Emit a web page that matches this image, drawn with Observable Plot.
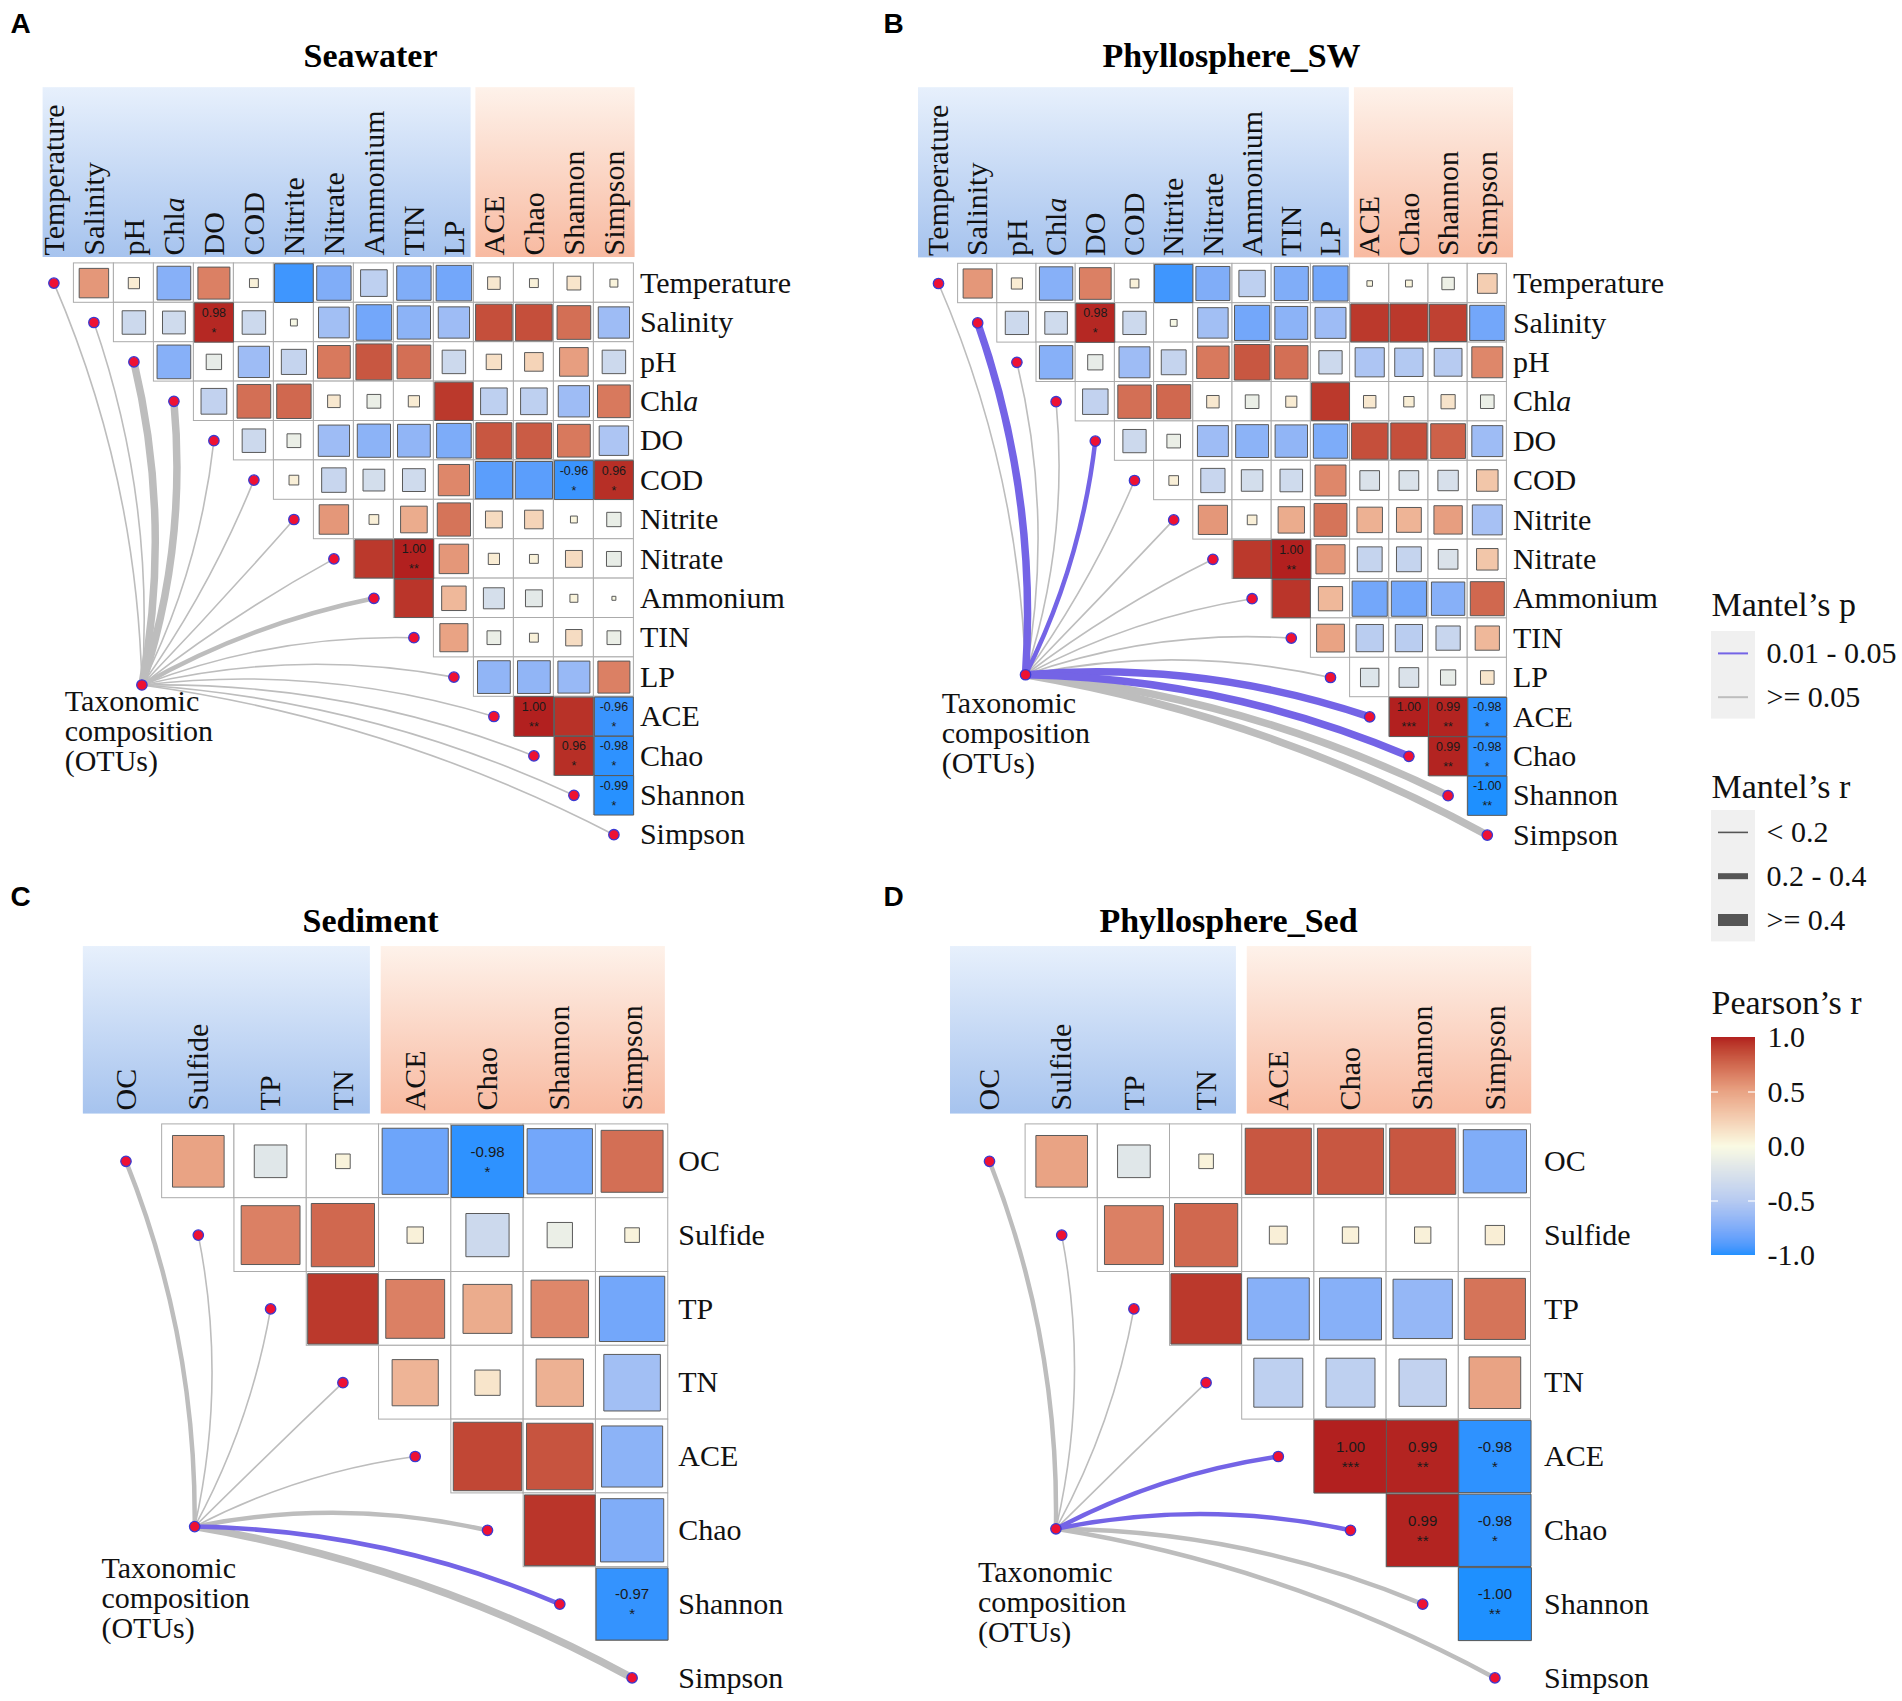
<!DOCTYPE html>
<html>
<head>
<meta charset="utf-8">
<script src="https://cdn.jsdelivr.net/npm/d3@7"></script>
<script src="https://cdn.jsdelivr.net/npm/@observablehq/plot@0.6"></script>
<style>
  html, body { margin: 0; padding: 0; background: #fff; }
  #fig { position: relative; width: 1902px; height: 1701px; background: #fff; overflow: hidden; }
  #fig svg { position: absolute; overflow: visible; }
</style>
</head>
<body>
<div id="fig"></div>
<script>
// ================= DATA =================
const panelLetters = ["A", "B", "C", "D"];
const panelTitles = ["Seawater", "Phyllosphere_SW", "Sediment", "Phyllosphere_Sed"];
const specLabel = ["Taxonomic", "composition", "(OTUs)"];

const seawaterEnv = ["Temperature", "Salinity", "pH", "Chla", "DO", "COD", "Nitrite", "Nitrate", "Ammonium", "TIN", "LP"];
const sedimentEnv = ["OC", "Sulfide", "TP", "TN"];
const diversity = ["ACE", "Chao", "Shannon", "Simpson"];

// Pearson's r among environmental factors (upper triangle, row i vs following columns)
const seawaterEnvR = [
  [0.55, 0.08, -0.72, 0.65, 0.05, -0.95, -0.75, -0.45, -0.75, -0.80],
  [-0.35, -0.33, 0.98, -0.35, -0.03, -0.60, -0.80, -0.70, -0.62],
  [-0.72, -0.15, -0.62, -0.40, 0.68, 0.82, 0.72, -0.35],
  [-0.42, 0.72, 0.75, 0.10, -0.12, 0.08, 0.93],
  [-0.35, -0.12, -0.62, -0.70, -0.68, -0.76],
  [0.06, -0.38, -0.30, -0.33, 0.62],
  [0.55, 0.06, 0.45, 0.70],
  [0.93, 1.00, 0.55],
  [0.94, 0.38],
  [0.50]
];
const sedimentEnvR = [
  [0.50, -0.20, 0.04],
  [0.65, 0.75],
  [0.93]
];

// Pearson's r between each environmental factor (rows) and ACE, Chao, Shannon, Simpson
const seawaterDivR = [
  [0.10, 0.05, 0.12, 0.04],
  [0.85, 0.85, 0.72, -0.62],
  [0.15, 0.22, 0.52, -0.35],
  [-0.45, -0.45, -0.62, 0.68],
  [0.82, 0.80, 0.68, -0.55],
  [-0.88, -0.88, -0.96, 0.96],
  [0.18, 0.22, 0.03, -0.13],
  [0.08, 0.05, 0.18, -0.14],
  [-0.28, -0.18, 0.04, -0.01],
  [-0.12, 0.05, 0.17, -0.12],
  [-0.68, -0.68, -0.65, 0.65]
];
const phylloSWDivR = [
  [0.02, 0.03, -0.10, 0.25],
  [0.93, 0.93, 0.90, -0.80],
  [-0.55, -0.52, -0.50, 0.62],
  [0.10, 0.07, 0.13, -0.12],
  [0.85, 0.85, 0.78, -0.62],
  [-0.25, -0.25, -0.27, 0.30],
  [0.42, 0.40, 0.52, -0.58],
  [-0.40, -0.40, -0.25, 0.30],
  [-0.80, -0.80, -0.72, 0.75],
  [-0.48, -0.48, -0.38, 0.38],
  [-0.22, -0.25, -0.15, 0.12]
];
const sedimentDivR = [
  [-0.82, -0.98, -0.80, 0.72],
  [0.05, -0.35, -0.12, 0.04],
  [0.65, 0.45, 0.62, -0.80],
  [0.40, 0.12, 0.42, -0.60]
];
const phylloSedDivR = [
  [0.82, 0.82, 0.82, -0.75],
  [0.06, 0.05, 0.05, 0.07],
  [-0.72, -0.72, -0.66, 0.70],
  [-0.45, -0.45, -0.42, 0.50]
];

// Pearson's r among diversity indices (ACE vs Chao/Shannon/Simpson, Chao vs Shannon/Simpson, Shannon vs Simpson)
const seawaterDivDivR = [[1.00, 0.95, -0.96], [0.96, -0.98], [-0.99]];
const phylloSWDivDivR = [[1.00, 0.99, -0.98], [0.99, -0.98], [-1.00]];
const sedimentDivDivR = [[0.88, 0.83, -0.70], [0.94, -0.75], [-0.97]];
const phylloSedDivDivR = [[1.00, 0.99, -0.98], [0.99, -0.98], [-1.00]];

// significant Pearson correlations [row, column, stars]
const seawaterSig = [["Salinity", "DO", "*"], ["COD", "Shannon", "*"], ["COD", "Simpson", "*"], ["Nitrate", "TIN", "**"],
  ["ACE", "Chao", "**"], ["ACE", "Simpson", "*"], ["Chao", "Shannon", "*"], ["Chao", "Simpson", "*"], ["Shannon", "Simpson", "*"]];
const phylloSWSig = [["Salinity", "DO", "*"], ["Nitrate", "TIN", "**"], ["ACE", "Chao", "***"], ["ACE", "Shannon", "**"],
  ["ACE", "Simpson", "*"], ["Chao", "Shannon", "**"], ["Chao", "Simpson", "*"], ["Shannon", "Simpson", "**"]];
const sedimentSig = [["OC", "Chao", "*"], ["Shannon", "Simpson", "*"]];
const phylloSedSig = [["ACE", "Chao", "***"], ["ACE", "Shannon", "**"], ["ACE", "Simpson", "*"],
  ["Chao", "Shannon", "**"], ["Chao", "Simpson", "*"], ["Shannon", "Simpson", "**"]];

// Mantel tests: taxonomic composition (OTUs) vs each variable
const pLevels = ["0.01 - 0.05", ">= 0.05"];
const rLevels = ["< 0.2", "0.2 - 0.4", ">= 0.4"];
const seawaterMantelP = [">= 0.05", ">= 0.05", ">= 0.05", ">= 0.05", ">= 0.05", ">= 0.05", ">= 0.05", ">= 0.05",
  ">= 0.05", ">= 0.05", ">= 0.05", ">= 0.05", ">= 0.05", ">= 0.05", ">= 0.05"];
const seawaterMantelR = ["< 0.2", "< 0.2", ">= 0.4", ">= 0.4", "< 0.2", "< 0.2", "< 0.2", "< 0.2",
  "0.2 - 0.4", "< 0.2", "< 0.2", "< 0.2", "< 0.2", "< 0.2", "< 0.2"];
const phylloSWMantelP = [">= 0.05", "0.01 - 0.05", ">= 0.05", ">= 0.05", "0.01 - 0.05", ">= 0.05", ">= 0.05", ">= 0.05",
  ">= 0.05", ">= 0.05", ">= 0.05", "0.01 - 0.05", "0.01 - 0.05", ">= 0.05", ">= 0.05"];
const phylloSWMantelR = ["< 0.2", ">= 0.4", "< 0.2", "< 0.2", "0.2 - 0.4", "< 0.2", "< 0.2", "< 0.2",
  "< 0.2", "< 0.2", "< 0.2", ">= 0.4", ">= 0.4", ">= 0.4", ">= 0.4"];
const sedimentMantelP = [">= 0.05", ">= 0.05", ">= 0.05", ">= 0.05", ">= 0.05", ">= 0.05", "0.01 - 0.05", ">= 0.05"];
const sedimentMantelR = ["0.2 - 0.4", "< 0.2", "< 0.2", "< 0.2", "< 0.2", "0.2 - 0.4", "0.2 - 0.4", ">= 0.4"];
const phylloSedMantelP = [">= 0.05", ">= 0.05", ">= 0.05", ">= 0.05", "0.01 - 0.05", "0.01 - 0.05", ">= 0.05", ">= 0.05"];
const phylloSedMantelR = ["0.2 - 0.4", "< 0.2", "< 0.2", "< 0.2", "0.2 - 0.4", "0.2 - 0.4", "0.2 - 0.4", "0.2 - 0.4"];

const pearsonTicks = [1.0, 0.5, 0.0, -0.5, -1.0];

// ================= STYLE / LAYOUT =================
const serif = "'Liberation Serif', 'Times New Roman', serif";
const sans = "'Liberation Sans', Arial, sans-serif";
const blueLink = "#7464E6", grayLink = "#BDBDBD";
const linkWidth = {"< 0.2": 1.6, "0.2 - 0.4": 4.5, ">= 0.4": 7.5};
const legendWidth = {"< 0.2": 1.6, "0.2 - 0.4": 6, ">= 0.4": 12};
const pColor = {"0.01 - 0.05": blueLink, ">= 0.05": grayLink};
const pearsonColor = {
  type: "linear",
  domain: [-1, -0.5, 0, 0.5, 1],
  range: ["#1E90FF", "#B7CBF1", "#FAFAE3", "#E9A384", "#B2201F"],
  interpolate: d3.interpolateLab
};

const panelData = [
  {env: seawaterEnv, envR: seawaterEnvR, divR: seawaterDivR, divDivR: seawaterDivDivR, sig: seawaterSig, mantelP: seawaterMantelP, mantelR: seawaterMantelR},
  {env: seawaterEnv, envR: seawaterEnvR, divR: phylloSWDivR, divDivR: phylloSWDivDivR, sig: phylloSWSig, mantelP: phylloSWMantelP, mantelR: phylloSWMantelR},
  {env: sedimentEnv, envR: sedimentEnvR, divR: sedimentDivR, divDivR: sedimentDivDivR, sig: sedimentSig, mantelP: sedimentMantelP, mantelR: sedimentMantelR},
  {env: sedimentEnv, envR: sedimentEnvR, divR: phylloSedDivR, divDivR: phylloSedDivDivR, sig: phylloSedSig, mantelP: phylloSedMantelP, mantelR: phylloSedMantelR}
];

const layouts = [
  {left: 0, top: 0, width: 880, height: 870, x0: 53.4, dx: 40.0, y0: 282.6, dy: 39.4, cell: 39.7, anchor: [2.2, 10.2],
   blueBox: [-0.27, 10.43], orangeBox: [10.55, 14.53], boxY: [-4.96, -0.65], labelY: -0.7, tax: [0.27, 10.31], rowDx: 6,
   titleX: 370, titleY: 56, letterX: 10, letterY: 24, sigFont: 12.5},
  {left: 880, top: 0, width: 820, height: 870, x0: 58, dx: 39.2, y0: 283, dy: 39.4, cell: 39.3, anchor: [2.22, 9.93],
   blueBox: [-0.51, 10.48], orangeBox: [10.61, 14.67], boxY: [-4.97, -0.65], labelY: -0.7, tax: [0.08, 10.36], rowDx: 6,
   titleX: 351, titleY: 56, letterX: 3, letterY: 24, sigFont: 12.5},
  {left: 0, top: 870, width: 880, height: 831, x0: 125.5, dx: 72.3, y0: 290.8, dy: 73.8, cell: 73, anchor: [0.95, 4.95],
   blueBox: [-0.59, 3.38], orangeBox: [3.53, 7.46], boxY: [-2.91, -0.64], labelY: -0.69, tax: [-0.34, 5.36], rowDx: 10,
   titleX: 370, titleY: 51, letterX: 10, letterY: 27, sigFont: 15},
  {left: 880, top: 870, width: 820, height: 831, x0: 109, dx: 72.2, y0: 290.8, dy: 73.8, cell: 73, anchor: [0.92, 4.98],
   blueBox: [-0.54, 3.42], orangeBox: [3.57, 7.51], boxY: [-2.91, -0.64], labelY: -0.69, tax: [-0.16, 5.41], rowDx: 13,
   titleX: 348, titleY: 51, letterX: 3, letterY: 27, sigFont: 15}
];

const fig = document.getElementById("fig");

function place(svg, left, top) {
  svg.style.position = "absolute";
  svg.style.left = left + "px";
  svg.style.top = top + "px";
  svg.style.overflow = "visible";
  fig.appendChild(svg);
}

function panelPlot(p) {
  const data = panelData[p], L = layouts[p];
  const vars = data.env.concat(diversity);
  const n = vars.length, ne = data.env.length;
  const cells = [];
  for (let i = 0; i < n; i++) for (let j = i + 1; j < n; j++) {
    const r = j < ne ? data.envR[i][j - i - 1] : (i < ne ? data.divR[i][j - ne] : data.divDivR[i - ne][j - i - 1]);
    const s = data.sig.find(s => s[0] === vars[i] && s[1] === vars[j]);
    cells.push({row: i, col: j, r, stars: s ? s[2] : null});
  }
  const sigCells = cells.filter(d => d.stars);
  const nodes = vars.map((v, k) => ({k, v, p: data.mantelP[k], mr: data.mantelR[k]}));
  const [ax, ay] = L.anchor;
  const bendOf = d => {
    const th = Math.atan2(ay - d.k, d.k - ax);
    return 12 * Math.sin(2 * (Math.PI / 4 - th));
  };
  const ordered = nodes.filter(d => d.p === pLevels[1]).concat(nodes.filter(d => d.p === pLevels[0]));
  const linkMarks = ordered.map(d => Plot.arrow([d], {
    x1: () => ax, y1: () => ay, x2: "k", y2: "k",
    bend: bendOf(d), headLength: 0,
    stroke: pColor[d.p], strokeWidth: linkWidth[d.mr], strokeLinecap: "round"
  }));
  const id = panelLetters[p];
  const defs = () => {
    const g = d3.create("svg:defs");
    const mk = (gid, c0, c1) => {
      const lg = g.append("linearGradient").attr("id", gid).attr("x1", 0).attr("y1", 0).attr("x2", 0).attr("y2", 1);
      lg.append("stop").attr("offset", "0%").attr("stop-color", c0);
      lg.append("stop").attr("offset", "100%").attr("stop-color", c1);
    };
    mk("gb" + id, "#E7F0FC", "#A6C3EE");
    mk("go" + id, "#FEF2EA", "#F8BAA1");
    return g.node();
  };
  const box = (bx) => ({x1: bx[0], x2: bx[1], y1: L.boxY[0], y2: L.boxY[1]});

  const svg = Plot.plot({
    width: L.width, height: L.height, margin: 0,
    x: {type: "linear", domain: [0, n - 1], range: [L.x0, L.x0 + (n - 1) * L.dx], axis: null},
    y: {type: "linear", domain: [0, n - 1], range: [L.y0, L.y0 + (n - 1) * L.dy], axis: null},
    r: {type: "sqrt", domain: [0, 1], range: [0, L.cell / Math.sqrt(Math.PI)]},
    color: pearsonColor,
    style: {background: "transparent", overflow: "visible"},
    marks: [
      defs,
      Plot.rect([box(L.blueBox)], {x1: "x1", x2: "x2", y1: "y1", y2: "y2", fill: `url(#gb${id})`}),
      Plot.rect([box(L.orangeBox)], {x1: "x1", x2: "x2", y1: "y1", y2: "y2", fill: `url(#go${id})`}),
      Plot.text([panelLetters[p]], {frameAnchor: "top-left", dx: L.letterX, dy: L.letterY, text: d => d, textAnchor: "start",
        lineAnchor: "middle", fontFamily: sans, fontWeight: "bold", fontSize: 28, fill: "#000"}),
      Plot.text([panelTitles[p]], {frameAnchor: "top-left", dx: L.titleX, dy: L.titleY, text: d => d, textAnchor: "middle",
        lineAnchor: "middle", fontFamily: serif, fontWeight: "bold", fontSize: 34, fill: "#000"}),
      Plot.text(vars, {x: (d, i) => i, y: () => L.labelY, text: d => d, rotate: -90, textAnchor: "start",
        fontFamily: serif, fontSize: 30, fill: "#111"}),
      Plot.rect(cells, {x1: d => d.col - 0.5, x2: d => d.col + 0.5, y1: d => d.row - 0.5, y2: d => d.row + 0.5,
        fill: "white", stroke: "#ABABAB", strokeWidth: 1}),
      Plot.dot(cells, {x: "col", y: "row", r: d => Math.abs(d.r), symbol: "square", fill: "r", stroke: "#5A5A5A", strokeWidth: 1}),
      Plot.text(sigCells, {x: "col", y: "row", text: d => d.r.toFixed(2), dy: -9.5, fontFamily: sans, fontSize: L.sigFont, fill: "#1A1A1A"}),
      Plot.text(sigCells, {x: "col", y: "row", text: "stars", dy: 10.5, fontFamily: sans, fontSize: L.sigFont, fill: "#1A1A1A"}),
      Plot.text(vars, {x: () => n - 0.5, y: (d, i) => i, dx: L.rowDx, text: d => d, textAnchor: "start",
        fontFamily: serif, fontSize: 30, fill: "#111"}),
      ...linkMarks,
      Plot.dot(nodes, {x: "k", y: "k", r: 5.2, fill: "#EE1133", stroke: "#3A3AD2", strokeWidth: 1.3}),
      Plot.dot([L.anchor], {x: d => d[0], y: d => d[1], r: 5.2, fill: "#EE1133", stroke: "#3A3AD2", strokeWidth: 1.3}),
      Plot.text([specLabel.join("\n")], {x: () => L.tax[0], y: () => L.tax[1], text: d => d, textAnchor: "start",
        lineAnchor: "top", lineHeight: 1.0, fontFamily: serif, fontSize: 30, fill: "#111"})
    ]
  });
  place(svg, L.left, L.top);
}

for (let p = 0; p < 4; p++) panelPlot(p);

// ---------- legend: Mantel's p and Mantel's r ----------
{
  const keyH = 43.8, pTop = 71, rTop = 250;
  const pY = i => pTop + keyH * (i + 0.5);
  const rY = i => rTop + keyH * (i + 0.5);
  const svg = Plot.plot({
    width: 202, height: 420, margin: 0,
    x: {domain: [0, 202], range: [0, 202], axis: null},
    y: {domain: [0, 420], range: [0, 420], axis: null},
    style: {background: "transparent", overflow: "visible"},
    marks: [
      Plot.text(["Mantel’s p"], {x: () => 11, y: () => 45, text: d => d, textAnchor: "start", fontFamily: serif, fontSize: 34, fill: "#111"}),
      Plot.rect([0], {x1: () => 11, x2: () => 55, y1: () => pTop, y2: () => pTop + keyH * pLevels.length, fill: "#F0F0F0"}),
      ...pLevels.map((lab, i) => Plot.ruleY([pY(i)], {x1: () => 18, x2: () => 48, stroke: pColor[lab], strokeWidth: 2})),
      Plot.text(pLevels, {x: () => 66, y: (d, i) => pY(i), text: d => d, textAnchor: "start", fontFamily: serif, fontSize: 30, fill: "#111"}),
      Plot.text(["Mantel’s r"], {x: () => 11, y: () => 227, text: d => d, textAnchor: "start", fontFamily: serif, fontSize: 34, fill: "#111"}),
      Plot.rect([0], {x1: () => 11, x2: () => 55, y1: () => rTop, y2: () => rTop + keyH * rLevels.length, fill: "#F0F0F0"}),
      ...rLevels.map((lab, i) => Plot.ruleY([rY(i)], {x1: () => 18, x2: () => 48, stroke: "#555555", strokeWidth: legendWidth[lab]})),
      Plot.text(rLevels, {x: () => 66, y: (d, i) => rY(i), text: d => d, textAnchor: "start", fontFamily: serif, fontSize: 30, fill: "#111"})
    ]
  });
  place(svg, 1700, 560);
}

// ---------- legend: Pearson's r colour bar ----------
{
  const steps = d3.range(-1, 1, 0.01);
  const svg = Plot.plot({
    width: 202, height: 320, margin: 0,
    x: {domain: [0, 202], range: [0, 202], axis: null},
    y: {type: "linear", domain: [-1, 1], range: [275, 57], axis: null},
    color: pearsonColor,
    style: {background: "transparent", overflow: "visible"},
    marks: [
      Plot.text(["Pearson’s r"], {frameAnchor: "top-left", dx: 11, dy: 23, text: d => d, textAnchor: "start",
        lineAnchor: "middle", fontFamily: serif, fontSize: 34, fill: "#111"}),
      Plot.rect(steps, {x1: () => 11, x2: () => 55, y1: d => d, y2: d => Math.min(1, d + 0.02), fill: d => d + 0.005}),
      Plot.ruleY(pearsonTicks.filter(t => Math.abs(t) === 0.5), {x1: () => 11, x2: () => 18, stroke: "white", strokeWidth: 1.2}),
      Plot.ruleY(pearsonTicks.filter(t => Math.abs(t) === 0.5), {x1: () => 48, x2: () => 55, stroke: "white", strokeWidth: 1.2}),
      Plot.text(pearsonTicks, {x: () => 67, y: d => d, text: d => d.toFixed(1), textAnchor: "start", fontFamily: serif, fontSize: 30, fill: "#111"})
    ]
  });
  place(svg, 1700, 980);
}

// italic "a" in Chla
d3.select(fig).selectAll("text").each(function () {
  if (this.textContent === "Chla") {
    this.textContent = "Chl";
    d3.select(this).append("tspan").attr("font-style", "italic").text("a");
  }
});
</script>
</body>
</html>
